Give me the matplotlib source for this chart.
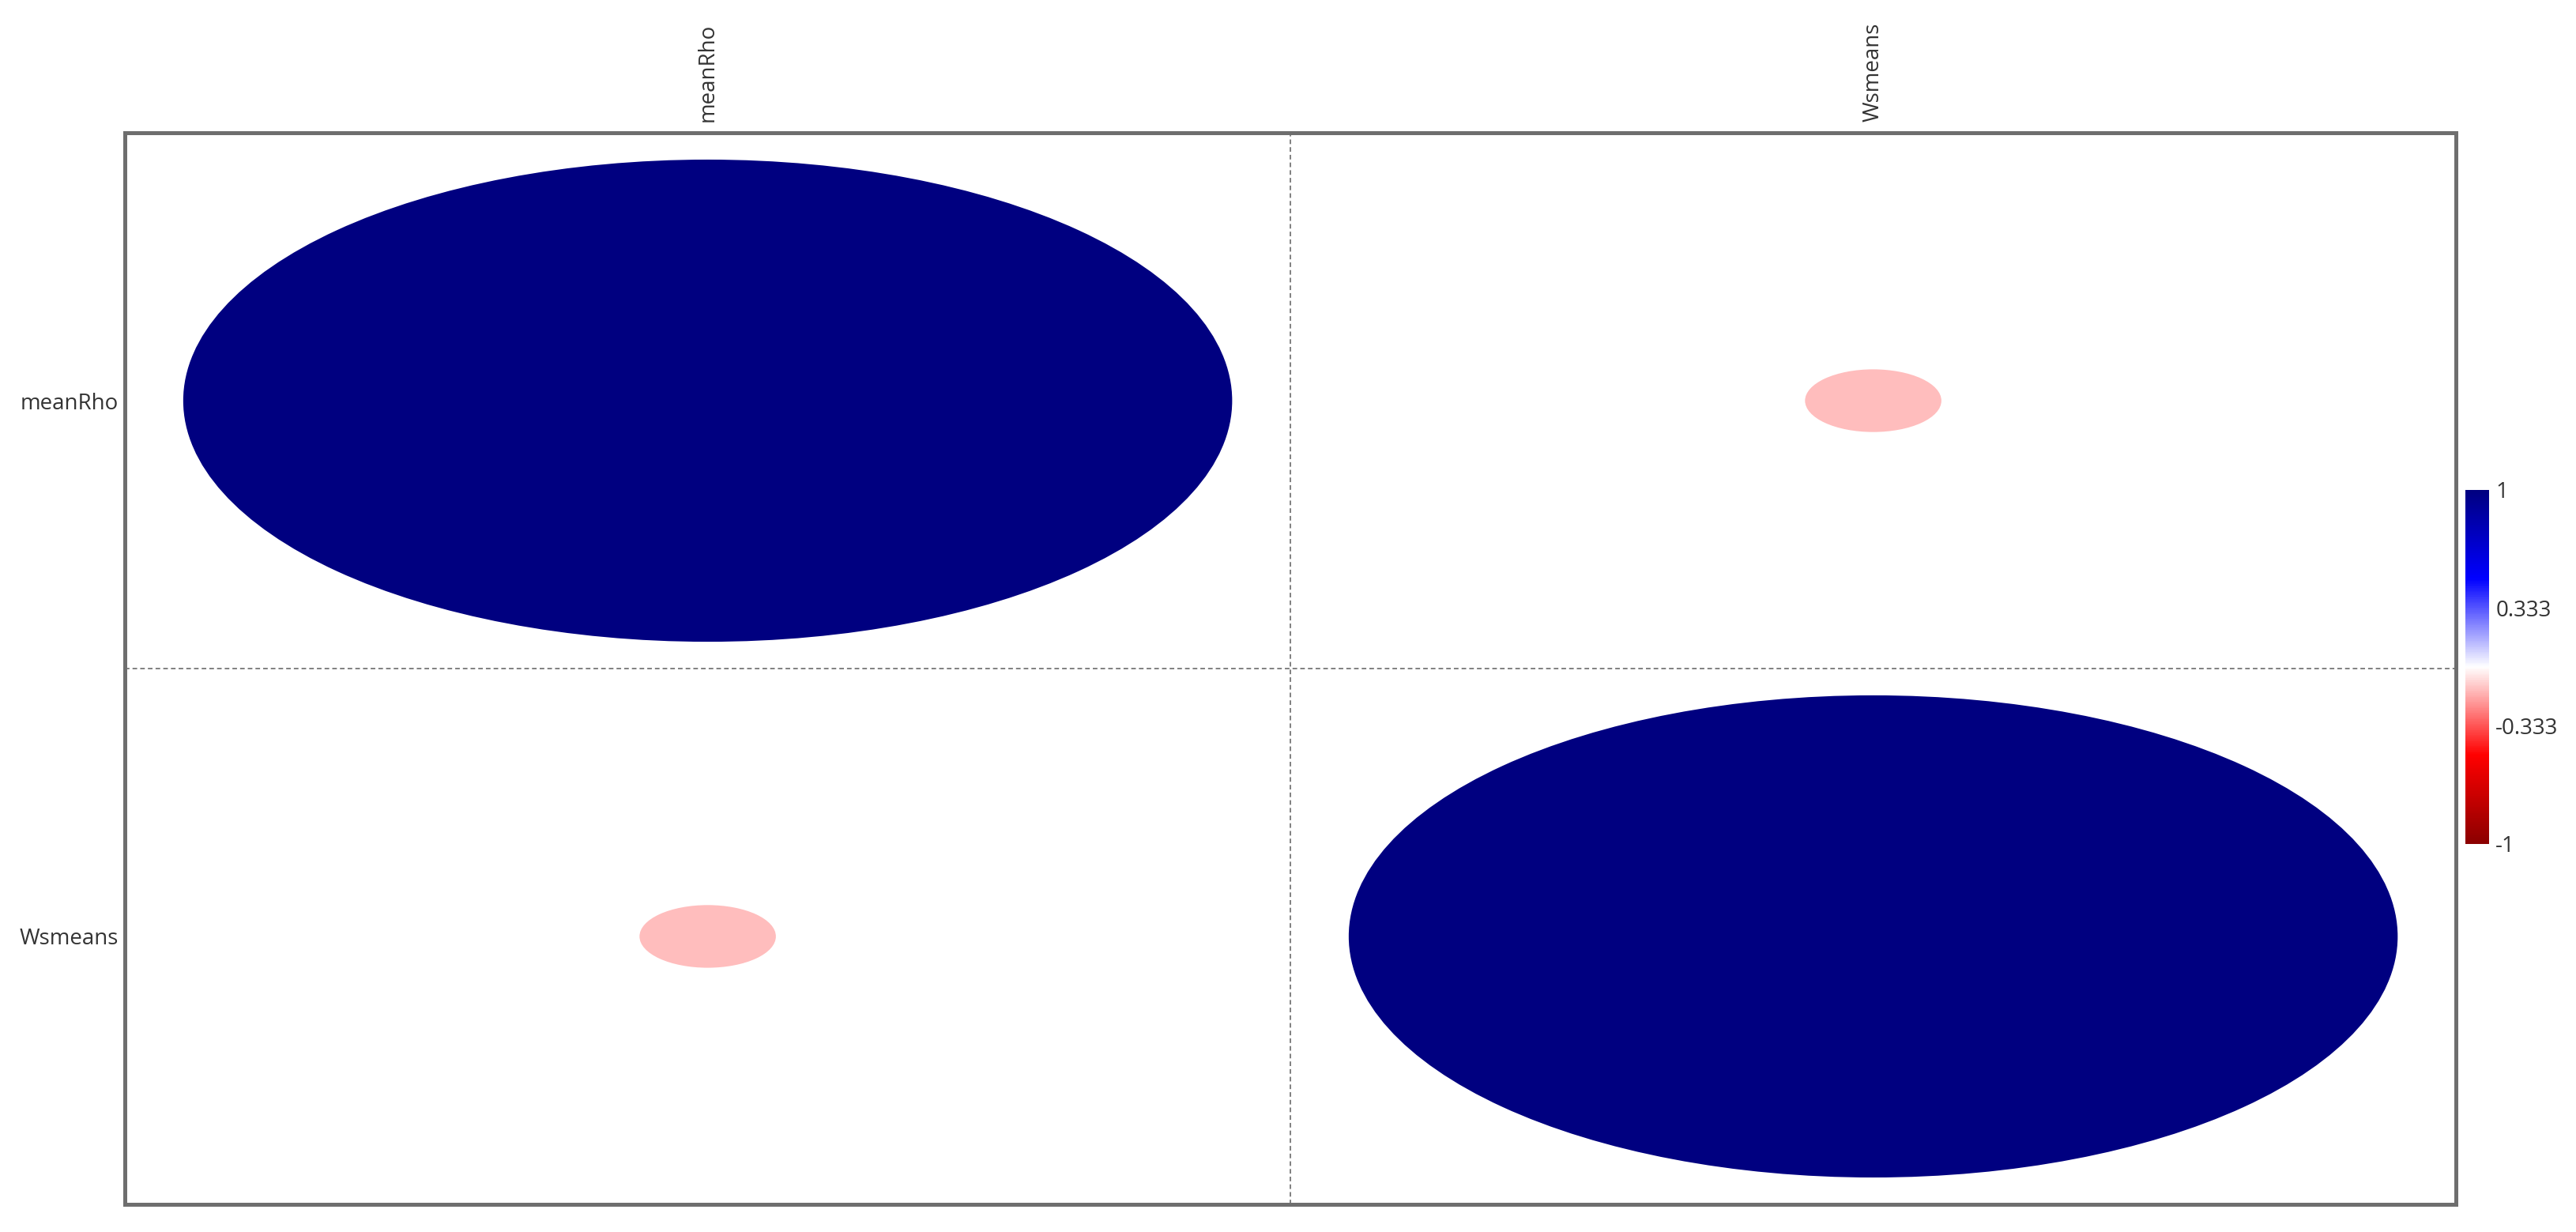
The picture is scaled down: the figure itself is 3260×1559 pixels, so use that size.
import matplotlib.pyplot as plt
import numpy as np
from matplotlib.patches import Ellipse
from matplotlib.colors import LinearSegmentedColormap, Normalize
from matplotlib.colorbar import ColorbarBase

plt.rcParams['font.family'] = ['Open Sans', 'DejaVu Sans']

labels = ["meanRho", "Wsmeans"]
corr = np.array([[1.0, -0.13],
                 [-0.13, 1.0]])
cbar_ticks = [-1, -0.333, 0.333, 1]
cbar_ticklabels = ["-1", "-0.333", "0.333", "1"]

cmap = LinearSegmentedColormap.from_list("corr", ["#8b0000", "red", "white", "blue", "navy"])
norm = Normalize(-1, 1)

fig = plt.figure(figsize=(16.3, 7.795), dpi=200)
ax = fig.add_axes([0.0485, 0.0225, 0.9049, 0.8697])

n = len(labels)
for i in range(n):
    for j in range(n):
        r = corr[i, j]
        # row 0 at top
        cx, cy = j + 0.5, n - i - 0.5
        d = 0.9 * abs(r)
        ax.add_patch(Ellipse((cx, cy), d, d, facecolor=cmap(norm(r)), edgecolor='none'))

ax.set_xlim(0, n)
ax.set_ylim(0, n)
for k in range(1, n):
    ax.axvline(k, color='#808080', lw=0.7, ls=(0, (3, 2)))
    ax.axhline(k, color='#808080', lw=0.7, ls=(0, (3, 2)))

ax.set_xticks(np.arange(n) + 0.5)
ax.set_xticklabels(labels, rotation=90, fontsize=10, color='#333333')
ax.xaxis.tick_top()
ax.tick_params(axis='x', length=0, pad=5)
ax.set_yticks(n - np.arange(n) - 0.5)
ax.set_yticklabels(labels, fontsize=10, color='#333333')
ax.tick_params(axis='y', length=0, pad=3)
for s in ax.spines.values():
    s.set_color('#6e6e6e')
    s.set_linewidth(1.8)

cax = fig.add_axes([0.957, 0.315, 0.0092, 0.2874])
cb = ColorbarBase(cax, cmap=cmap, norm=norm, ticks=cbar_ticks)
cb.set_ticklabels(cbar_ticklabels)
cb.outline.set_visible(False)
cax.tick_params(length=0, pad=3, labelsize=10, labelcolor='#333333')

fig.savefig("out.png", dpi=200, facecolor='white')
